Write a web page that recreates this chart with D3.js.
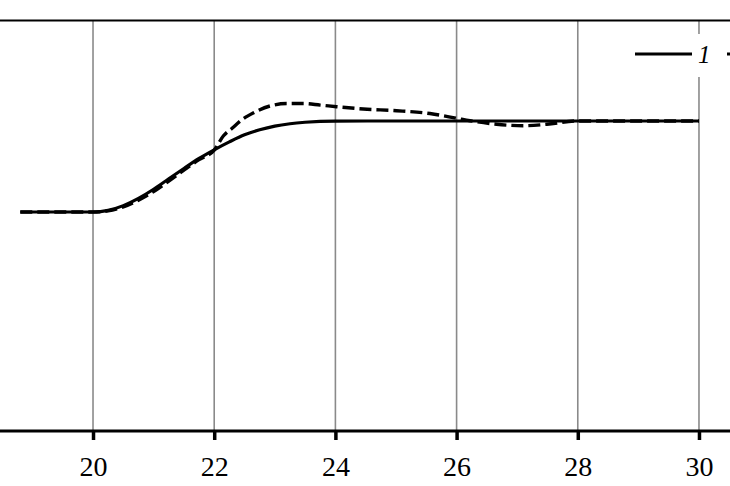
<!DOCTYPE html>
<html>
<head>
<meta charset="utf-8">
<script src="https://cdn.jsdelivr.net/npm/d3@7"></script>
<style>
  html, body { margin: 0; padding: 0; background: #fff; }
  svg { display: block; }
  .serif { font-family: "Liberation Serif", "Times New Roman", Times, serif; }
</style>
</head>
<body>
<div class="chart"></div>
<script>
// time axis (s) and normalised response values
const xTicks = [20, 22, 24, 26, 28, 30];
const seriesNames = ['1', '2'];

const timeSolid = [18.8, 19.5, 20, 20.25, 20.5, 20.75, 21, 21.25, 21.5, 21.75, 22, 22.25, 22.5, 22.75, 23, 23.25, 23.5, 24, 25, 26, 27, 28, 29, 30];
const valueSolid = [0, 0, 0, 0.018, 0.07, 0.15, 0.25, 0.365, 0.478, 0.588, 0.683, 0.77, 0.848, 0.903, 0.944, 0.97, 0.986, 0.999, 1, 1, 1, 1, 1, 1];

const timeDashed = [18.8, 19.5, 20, 20.25, 20.5, 20.75, 21, 21.25, 21.5, 21.75, 22, 22.15, 22.3, 22.45, 22.65, 22.92, 23.2, 23.47, 23.75, 24.02, 24.46, 25.01, 25.56, 26, 26.22, 26.66, 27.1, 27.49, 27.98, 28.5, 29, 30];
const valueDashed = [0, 0, 0, 0.012, 0.055, 0.13, 0.225, 0.34, 0.46, 0.575, 0.68, 0.835, 0.923, 1.01, 1.09, 1.165, 1.192, 1.192, 1.175, 1.157, 1.132, 1.113, 1.082, 1.03, 1.003, 0.964, 0.948, 0.964, 1.0, 1.0, 1.0, 1.0];

const width = 730;
const height = 486;
const plotTop = 21;
const axisY = 431;

const svg = d3.select('.chart')
    .append('svg')
    .attr('width', width)
    .attr('height', height);

const xScale = d3.scaleLinear()
    .domain([18.465, 30.512])
    .range([0, width]);

const yScale = d3.scaleLinear()
    .domain([-2.407, 2.099])
    .range([axisY, plotTop]);

// vertical grid lines
svg.append('g')
    .attr('class', 'grid')
    .selectAll('line')
    .data(xTicks)
    .enter()
    .append('line')
    .attr('x1', d => xScale(d))
    .attr('x2', d => xScale(d))
    .attr('y1', plotTop)
    .attr('y2', axisY)
    .attr('stroke', '#8a8a8a')
    .attr('stroke-width', 1.6);

// top frame line
svg.append('line')
    .attr('x1', 0).attr('x2', width)
    .attr('y1', 20.5).attr('y2', 20.5)
    .attr('stroke', '#000')
    .attr('stroke-width', 2.2);

const line = d3.line()
    .x(d => xScale(d[0]))
    .y(d => yScale(d[1]))
    .curve(d3.curveMonotoneX);

const solidData = timeSolid.map((t, i) => [t, valueSolid[i]]);
const dashedData = timeDashed.map((t, i) => [t, valueDashed[i]]);

svg.append('path')
    .datum(dashedData)
    .attr('d', line)
    .attr('fill', 'none')
    .attr('stroke', '#000')
    .attr('stroke-width', 3.4)
    .attr('stroke-dasharray', '12,5');

svg.append('path')
    .datum(solidData)
    .attr('d', line)
    .attr('fill', 'none')
    .attr('stroke', '#000')
    .attr('stroke-width', 3.2);

// bottom axis
const xAxis = d3.axisBottom(xScale)
    .tickValues(xTicks)
    .tickFormat(d3.format('d'))
    .tickSize(9)
    .tickSizeOuter(0)
    .tickPadding(16);

const axisG = svg.append('g')
    .attr('transform', `translate(0, ${axisY})`)
    .call(xAxis)
    .attr('font-family', null)
    .attr('font-size', null);

axisG.select('.domain').remove();
axisG.append('line')
    .attr('x1', 0).attr('x2', width)
    .attr('y1', 0).attr('y2', 0)
    .attr('stroke', '#000')
    .attr('stroke-width', 3);
axisG.selectAll('.tick line')
    .attr('stroke', '#000')
    .attr('stroke-width', 3.5);
axisG.selectAll('.tick text')
    .attr('class', 'serif')
    .attr('fill', '#000')
    .attr('font-size', 28);

// legend (runs off the right edge, as in the picture)
const legend = svg.append('g').attr('class', 'legend');
legend.append('rect')
    .attr('x', 622).attr('y', 34)
    .attr('width', 200).attr('height', 43)
    .attr('fill', '#fff');

const legendItems = seriesNames.map((name, i) => ({ name, dashed: i === 1, x: 635 + i * 92 }));
const item = legend.selectAll('g.item')
    .data(legendItems)
    .enter()
    .append('g')
    .attr('class', 'item');

item.append('line')
    .attr('x1', d => d.x)
    .attr('x2', d => d.x + 57)
    .attr('y1', 54).attr('y2', 54)
    .attr('stroke', '#000')
    .attr('stroke-width', 3.2)
    .attr('stroke-dasharray', d => d.dashed ? '12,5' : null);

// only the first label is inside the visible area
item.filter(d => d.x + 63 < width)
    .append('text')
    .attr('class', 'serif')
    .attr('x', d => d.x + 63)
    .attr('y', 63)
    .attr('font-style', 'italic')
    .attr('font-size', 25)
    .text(d => d.name);
</script>
</body>
</html>
